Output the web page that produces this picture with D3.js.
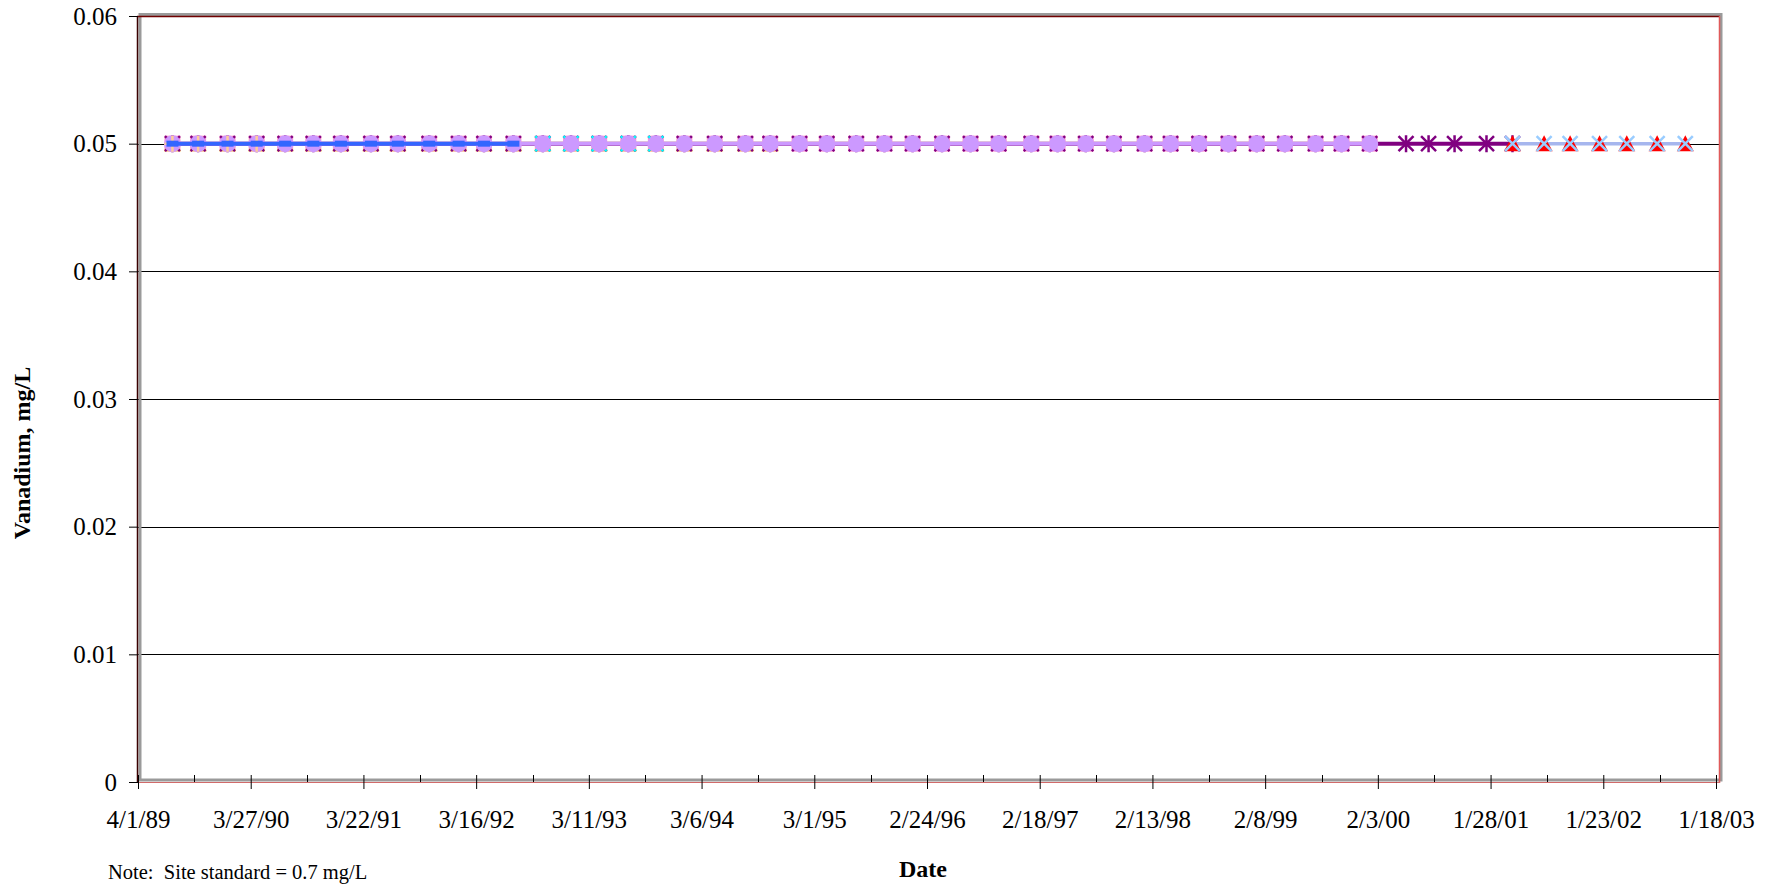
<!DOCTYPE html>
<html>
<head>
<meta charset="utf-8">
<script src="https://cdn.jsdelivr.net/npm/d3@7"></script>
<style>
  body { margin: 0; background: #fff; }
  svg text { font-family: "Liberation Serif", "Times New Roman", serif; }
</style>
</head>
<body>
<div id="chartContainer"></div>
<script>
var width = 1774;
var height = 885;
var margin = { top: 16, right: 54, bottom: 103, left: 138 };

// sample dates per well, all results reported at detection limit 0.05 mg/L
var lavenderDates = ["1989-07-20","1989-10-10","1990-01-12","1990-04-15","1990-07-15","1990-10-13","1991-01-09","1991-04-15","1991-07-10","1991-10-18","1992-01-20","1992-04-10","1992-07-13","1992-10-15","1993-01-13","1993-04-13","1993-07-15","1993-10-11","1994-01-10","1994-04-17","1994-07-24","1994-10-11","1995-01-13","1995-04-10","1995-07-13","1995-10-11","1996-01-09","1996-04-12","1996-07-12","1996-10-10","1997-01-22","1997-04-16","1997-07-15","1997-10-13","1998-01-19","1998-04-12","1998-07-12","1998-10-14","1999-01-12","1999-04-12","1999-07-19","1999-10-10","2000-01-08"];
var lavenderValues = [0.05,0.05,0.05,0.05,0.05,0.05,0.05,0.05,0.05,0.05,0.05,0.05,0.05,0.05,0.05,0.05,0.05,0.05,0.05,0.05,0.05,0.05,0.05,0.05,0.05,0.05,0.05,0.05,0.05,0.05,0.05,0.05,0.05,0.05,0.05,0.05,0.05,0.05,0.05,0.05,0.05,0.05,0.05];

var pinkDates = lavenderDates.slice();
var pinkValues = lavenderValues.slice();

var purpleDates = ["1989-07-20","1989-10-10","1990-01-12","1990-04-15","1990-07-15","1990-10-13","1991-01-09","1991-04-15","1991-07-10","1991-10-18","1992-01-20","1992-04-10","1992-07-13","1992-10-15","1993-01-13","1993-04-13","1993-07-15","1993-10-11","1994-01-10","1994-04-17","1994-07-24","1994-10-11","1995-01-13","1995-04-10","1995-07-13","1995-10-11","1996-01-09","1996-04-12","1996-07-12","1996-10-10","1997-01-22","1997-04-16","1997-07-15","1997-10-13","1998-01-19","1998-04-12","1998-07-12","1998-10-14","1999-01-12","1999-04-12","1999-07-19","1999-10-10","2000-01-08","2000-05-03","2000-07-14","2000-10-05","2001-01-15","2001-04-08"];
var purpleValues = [0.05,0.05,0.05,0.05,0.05,0.05,0.05,0.05,0.05,0.05,0.05,0.05,0.05,0.05,0.05,0.05,0.05,0.05,0.05,0.05,0.05,0.05,0.05,0.05,0.05,0.05,0.05,0.05,0.05,0.05,0.05,0.05,0.05,0.05,0.05,0.05,0.05,0.05,0.05,0.05,0.05,0.05,0.05,0.05,0.05,0.05,0.05,0.05];

var yellowDates = ["1989-07-20","1989-10-10","1990-01-12","1990-04-15","1990-07-15","1990-10-13","1991-01-09","1991-04-15","1991-07-10","1991-10-18","1992-01-20","1992-04-10","1992-07-13","1992-10-15","1993-01-13","1993-04-13","1993-07-15","1993-10-11","1994-01-10","1994-04-17","1994-07-24","1994-10-11"];
var yellowValues = [0.05,0.05,0.05,0.05,0.05,0.05,0.05,0.05,0.05,0.05,0.05,0.05,0.05,0.05,0.05,0.05,0.05,0.05,0.05,0.05,0.05,0.05];

var cyanDates = ["1992-10-15","1993-01-13","1993-04-13","1993-07-15","1993-10-11"];
var cyanValues = [0.05,0.05,0.05,0.05,0.05];

var peachDates = ["1989-07-20","1989-10-10","1990-01-12","1990-04-15"];
var peachValues = [0.05,0.05,0.05,0.05];

var blueDates = ["1989-07-20","1989-10-10","1990-01-12","1990-04-15","1990-07-15","1990-10-13","1991-01-09","1991-04-15","1991-07-10","1991-10-18","1992-01-20","1992-04-10","1992-07-13"];
var blueValues = [0.05,0.05,0.05,0.05,0.05,0.05,0.05,0.05,0.05,0.05,0.05,0.05,0.05];

var redDates = ["2001-04-08","2001-07-18","2001-10-09","2002-01-11","2002-04-08","2002-07-14","2002-10-12"];
var redValues = [0.05,0.05,0.05,0.05,0.05,0.05,0.05];

var skyDates = redDates.slice();
var skyValues = redValues.slice();

// axis ticks
var xTickLabels = ["4/1/89","3/27/90","3/22/91","3/16/92","3/11/93","3/6/94","3/1/95","2/24/96","2/18/97","2/13/98","2/8/99","2/3/00","1/28/01","1/23/02","1/18/03"];
var yTickValues = [0, 0.01, 0.02, 0.03, 0.04, 0.05, 0.06];

var parseIso = d3.timeParse("%Y-%m-%d");
var parseTick = d3.timeParse("%m/%d/%y");
var fmtTick = d3.timeFormat("%-m/%-d/%y");

var xTicks = xTickLabels.map(parseTick);
// minor ticks half way (180 days) between the majors
var xMinor = xTicks.slice(0, -1).map(function(t) { return d3.timeDay.offset(t, 180); });

var svg = d3.select('#chartContainer')
    .append('svg')
    .attr("width", width)
    .attr("height", height);

var xScale = d3.scaleTime()
    .domain([xTicks[0], xTicks[xTicks.length - 1]])
    .range([margin.left, 1716]);

var yScale = d3.scaleLinear()
    .domain([0, 0.06])
    .range([height - margin.bottom - 0, margin.top]);

var plotRight = 1720;
var plotBottom = 782;

/*** gridlines ***/
svg.append('g').selectAll('line')
    .data(yTickValues.filter(function(v) { return v > 0 && v < 0.06; }))
    .enter().append('line')
    .attr('x1', margin.left).attr('x2', plotRight)
    .attr('y1', function(d) { return Math.round(yScale(d)) + 0.5; })
    .attr('y2', function(d) { return Math.round(yScale(d)) + 0.5; })
    .attr('stroke', '#000').attr('stroke-width', 1);

/*** plot frame: gray shadow plus thin coloured edge ***/
svg.append('rect')
    .attr('x', 140).attr('y', 14.5)
    .attr('width', 1721 - 140).attr('height', 780 - 14.5)
    .attr('fill', 'none').attr('stroke', '#9a9a9a').attr('stroke-width', 3);
svg.append('line').attr('x1', 137.5).attr('x2', 137.5).attr('y1', 16).attr('y2', 783).attr('stroke', '#3a0000').attr('stroke-width', 1.5);
svg.append('line').attr('x1', 137).attr('x2', plotRight).attr('y1', 16.5).attr('y2', 16.5).attr('stroke', '#700000').attr('stroke-width', 1.5);
svg.append('line').attr('x1', 1719.5).attr('x2', 1719.5).attr('y1', 16).attr('y2', 783).attr('stroke', '#e05a5a').attr('stroke-width', 1.5);
svg.append('line').attr('x1', 137).attr('x2', plotRight).attr('y1', 782.5).attr('y2', 782.5).attr('stroke', '#d06a6a').attr('stroke-width', 1);

/*** series ***/
function toPoints(dates, values) {
  return dates.map(function(d, i) { return { date: parseIso(d), value: values[i] }; });
}

var lineFunc = d3.line()
    .x(function(d) { return xScale(d.date); })
    .y(function(d) { return yScale(d.value); });

function drawLine(pts, color, w) {
  svg.append('path').attr('d', lineFunc(pts))
      .attr('fill', 'none').attr('stroke', color).attr('stroke-width', w);
}

function drawMarkers(pts, kind, color) {
  var g = svg.append('g');
  pts.forEach(function(d) {
    var cx = xScale(d.date), cy = yScale(d.value);
    if (kind === 'circle') {
      g.append('circle').attr('cx', cx).attr('cy', cy).attr('r', 8.5).attr('fill', color);
    } else if (kind === 'square') {
      g.append('rect').attr('x', cx - 8).attr('y', cy - 8).attr('width', 16).attr('height', 16).attr('fill', color);
    } else if (kind === 'triangle') {
      g.append('path').attr('d', 'M' + cx + ',' + (cy - 8.5) + 'L' + (cx + 8.5) + ',' + (cy + 7.5) + 'L' + (cx - 8.5) + ',' + (cy + 7.5) + 'Z').attr('fill', color);
    } else if (kind === 'x' || kind === 'star') {
      var s = 7.5;
      g.append('path').attr('d', 'M' + (cx - s) + ',' + (cy - s) + 'L' + (cx + s) + ',' + (cy + s) + 'M' + (cx - s) + ',' + (cy + s) + 'L' + (cx + s) + ',' + (cy - s)
          + (kind === 'star' ? 'M' + cx + ',' + (cy - s - 1) + 'L' + cx + ',' + (cy + s + 1) : ''))
          .attr('stroke', color).attr('stroke-width', 2.5).attr('fill', 'none');
    } else if (kind === 'plus') {
      g.append('path').attr('d', 'M' + (cx - 8) + ',' + cy + 'L' + (cx + 8) + ',' + cy + 'M' + cx + ',' + (cy - 8) + 'L' + cx + ',' + (cy + 8))
          .attr('stroke', color).attr('stroke-width', 2.5);
    } else if (kind === 'dash') {
      g.append('rect').attr('x', cx - 6).attr('y', cy - 3).attr('width', 12).attr('height', 6).attr('fill', color);
    }
  });
}

var pink = toPoints(pinkDates, pinkValues);
var yellow = toPoints(yellowDates, yellowValues);
var purple = toPoints(purpleDates, purpleValues);
var cyan = toPoints(cyanDates, cyanValues);
var lavender = toPoints(lavenderDates, lavenderValues);
var peach = toPoints(peachDates, peachValues);
var blue = toPoints(blueDates, blueValues);
var red = toPoints(redDates, redValues);
var sky = toPoints(skyDates, skyValues);

drawLine(purple, '#800080', 4);
drawMarkers(pink, 'square', '#FF99CC');
drawMarkers(yellow, 'triangle', '#FFFF00');
drawMarkers(purple, 'star', '#800080');
drawMarkers(cyan, 'x', '#00FFFF');
drawLine(lavender, '#CC99FF', 3.5);
drawMarkers(lavender, 'circle', '#CC99FF');
drawMarkers(peach, 'plus', '#FFCC99');
drawLine(blue, '#3366FF', 4);
drawMarkers(blue, 'dash', '#3366FF');
drawLine(sky, '#A6B6EE', 3.5);
drawMarkers(red, 'triangle', '#FF0000');
drawMarkers(sky, 'x', '#99CCFF');

/*** axes ***/
var yAxis = d3.axisLeft(yScale)
    .tickValues(yTickValues)
    .tickSize(9).tickSizeOuter(0).tickPadding(12)
    .tickFormat(function(d) { return d === 0 ? "0" : d.toFixed(2); });
var yAxisGroup = svg.append('g').attr('transform', 'translate(' + margin.left + ',0)');
yAxis(yAxisGroup);
yAxisGroup.select('.domain').remove();
yAxisGroup.selectAll('text').attr('font-size', 25).attr('font-family', '"Liberation Serif", serif');

var xAxis = d3.axisBottom(xScale)
    .tickValues(xTicks)
    .tickSize(7).tickSizeOuter(0).tickPadding(21)
    .tickFormat(fmtTick);
var xAxisGroup = svg.append('g').attr('transform', 'translate(0,' + plotBottom + ')');
xAxis(xAxisGroup);
xAxisGroup.select('.domain').remove();
xAxisGroup.selectAll('.tick line').attr('y1', -7);
xAxisGroup.selectAll('text').attr('font-size', 25).attr('font-family', '"Liberation Serif", serif');

svg.append('g').selectAll('line')
    .data(xMinor).enter().append('line')
    .attr('x1', function(d) { return Math.round(xScale(d)) + 0.5; })
    .attr('x2', function(d) { return Math.round(xScale(d)) + 0.5; })
    .attr('y1', plotBottom - 7).attr('y2', plotBottom)
    .attr('stroke', '#000');

/*** titles ***/
svg.append('text')
    .attr('transform', 'translate(30,453) rotate(-90)')
    .attr('text-anchor', 'middle')
    .attr('font-weight', 'bold').attr('font-size', 24)
    .text('Vanadium, mg/L');

svg.append('text')
    .attr('x', 923).attr('y', 877)
    .attr('text-anchor', 'middle')
    .attr('font-weight', 'bold').attr('font-size', 24)
    .text('Date');

svg.append('text')
    .attr('x', 108).attr('y', 879)
    .attr('font-size', 20.5)
    .style('white-space', 'pre')
    .text('Note:  Site standard = 0.7 mg/L');
</script>
</body>
</html>
